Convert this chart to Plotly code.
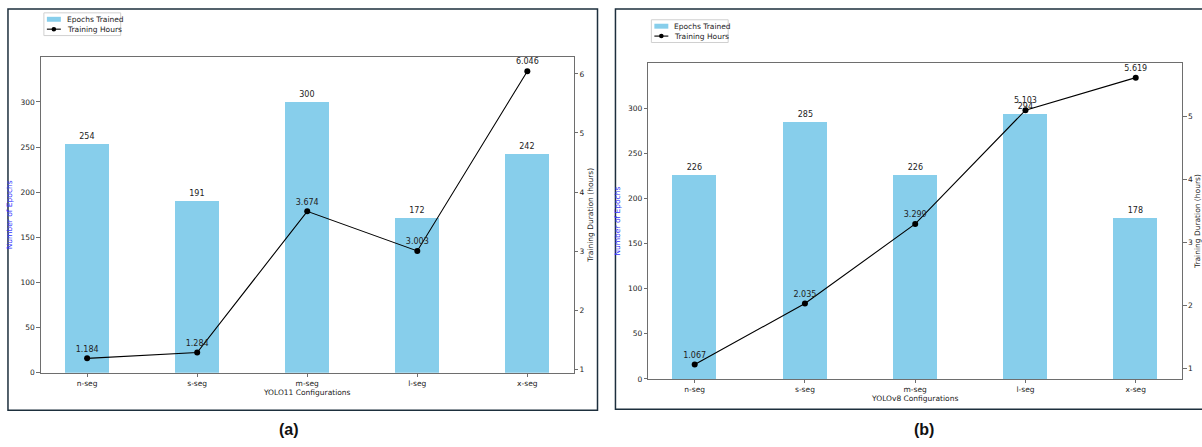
import plotly.graph_objects as go

configs = ["n-seg", "s-seg", "m-seg", "l-seg", "x-seg"]
epochs_yolo11 = [254, 191, 300, 172, 242]
hours_yolo11 = [1.184, 1.284, 3.674, 3.003, 6.046]
epochs_yolov8 = [226, 285, 226, 294, 178]
hours_yolov8 = [1.067, 2.035, 3.299, 5.103, 5.619]
panel_labels = ["(a)", "(b)"]
xtitles = ["YOLO11 Configurations", "YOLOv8 Configurations"]
legend_names = ["Epochs Trained", "Training Hours"]

W, H = 1202, 441
FONT = "DejaVu Sans"
TXT = "#222222"
BAR = "#87CEEB"
SPINE = "#6e6e6e"

def px(x):
    return x / W

def py(y):
    return 1 - y / H

fig = go.Figure()

panels = [
    dict(ep=epochs_yolo11, hr=hours_yolo11, xa="x", ya="y", ya2="y2",
         xd=[px(41), px(575)], yd=[py(377), py(57.5)], hr_range=[0.941, 6.289],
         leg=(44, 13)),
    dict(ep=epochs_yolov8, hr=hours_yolov8, xa="x2", ya="y3", ya2="y4",
         xd=[px(650), px(1185)], yd=[py(383.3), py(64)], hr_range=[0.839, 5.847],
         leg=(653, 20)),
]

for i, p in enumerate(panels):
    fig.add_trace(go.Bar(
        x=configs, y=p["ep"], width=0.4, marker=dict(color=BAR, line=dict(width=0)),
        name=legend_names[0], xaxis=p["xa"], yaxis=p["ya"], showlegend=False,
        text=[str(v) for v in p["ep"]], textposition="outside", cliponaxis=False,
        textfont=dict(size=8, color=TXT, family=FONT),
    ))
    fig.add_trace(go.Scatter(
        x=configs, y=p["hr"], mode="lines+markers+text", name=legend_names[1],
        line=dict(color="black", width=1.1), marker=dict(color="black", size=6),
        xaxis=p["xa"], yaxis=p["ya2"], showlegend=False,
        text=[f"{v:.3f}" for v in p["hr"]], textposition="top center", cliponaxis=False,
        textfont=dict(size=8, color=TXT, family=FONT),
    ))

axis_common = dict(
    showline=True, linecolor=SPINE, linewidth=1, ticks="outside", ticklen=3.5,
    tickcolor=SPINE, tickfont=dict(size=7.5, color=TXT, family=FONT), showgrid=False,
    zeroline=False,
)

layout = dict(
    width=W, height=H, autosize=False, margin=dict(l=0, r=0, t=0, b=0),
    paper_bgcolor="white", plot_bgcolor="white",
    font=dict(family=FONT, color=TXT), bargap=0,
    showlegend=False,
)

for i, p in enumerate(panels):
    xname = "xaxis" if i == 0 else "xaxis2"
    yname = "yaxis" if i == 0 else "yaxis3"
    y2name = "yaxis2" if i == 0 else "yaxis4"
    xref = "x" if i == 0 else "x2"
    yref = "y" if i == 0 else "y3"
    layout[xname] = dict(
        axis_common, domain=p["xd"], anchor=yref, range=[-0.42, 4.42], mirror=True,
        type="category",
        title=dict(text=xtitles[i], font=dict(size=7.5, color=TXT, family=FONT), standoff=2),
    )
    layout[yname] = dict(
        axis_common, domain=p["yd"], anchor=xref, range=[0, 350],
        tickvals=[0, 50, 100, 150, 200, 250, 300],
        title=dict(text="Number of Epochs", font=dict(size=7.5, color="#3333ff", family=FONT), standoff=6),
    )
    layout[y2name] = dict(
        axis_common, overlaying=yref, anchor=xref, side="right", range=p["hr_range"],
        dtick=1, tick0=1,
        title=dict(text="Training Duration (hours)", font=dict(size=7.5, color=TXT, family=FONT), standoff=4),
    )

fig.update_layout(**layout)

# panel frames
fig.add_shape(type="rect", xref="paper", yref="paper", x0=px(8), x1=px(599), y0=py(415), y1=py(9),
              line=dict(color="#1d2f3d", width=1.5), fillcolor="rgba(0,0,0,0)", layer="below")
fig.add_shape(type="rect", xref="paper", yref="paper", x0=px(617), x1=px(1215), y0=py(414), y1=py(9),
              line=dict(color="#1d2f3d", width=1.5), fillcolor="rgba(0,0,0,0)", layer="below")

# compact matplotlib-style legends
for p in panels:
    lx, ly = p["leg"]
    fig.add_shape(type="rect", xref="paper", yref="paper", x0=px(lx), x1=px(lx + 77),
                  y0=py(ly + 23), y1=py(ly), line=dict(color="#d0d0d0", width=1), fillcolor="white")
    fig.add_shape(type="rect", xref="paper", yref="paper", x0=px(lx + 3), x1=px(lx + 17),
                  y0=py(ly + 9), y1=py(ly + 4), line=dict(width=0), fillcolor=BAR)
    fig.add_shape(type="line", xref="paper", yref="paper", x0=px(lx + 3), x1=px(lx + 17),
                  y0=py(ly + 16.5), y1=py(ly + 16.5), line=dict(color="black", width=1.1))
    fig.add_shape(type="circle", xref="paper", yref="paper", x0=px(lx + 7.7), x1=px(lx + 12.3),
                  y0=py(ly + 18.8), y1=py(ly + 14.2), line=dict(width=0), fillcolor="black")
    for k, name in enumerate(legend_names):
        fig.add_annotation(text=name, xref="paper", yref="paper", x=px(lx + 21), y=py(ly + 6.5 + k * 10),
                           xanchor="left", yanchor="middle", showarrow=False,
                           font=dict(size=7.5, color=TXT, family=FONT))

# panel labels
fig.add_annotation(text="<b>" + panel_labels[0] + "</b>", xref="paper", yref="paper", x=px(290), y=py(434),
                   xanchor="center", yanchor="middle",
                   showarrow=False, font=dict(size=16, color="#111", family="Liberation Sans"))
fig.add_annotation(text="<b>" + panel_labels[1] + "</b>", xref="paper", yref="paper", x=px(926), y=py(434),
                   xanchor="center", yanchor="middle",
                   showarrow=False, font=dict(size=16, color="#111", family="Liberation Sans"))

fig.write_html("out.html", config={"displayModeBar": False, "responsive": False},
               post_script="document.body.style.margin='0';document.body.style.overflow='hidden';")
